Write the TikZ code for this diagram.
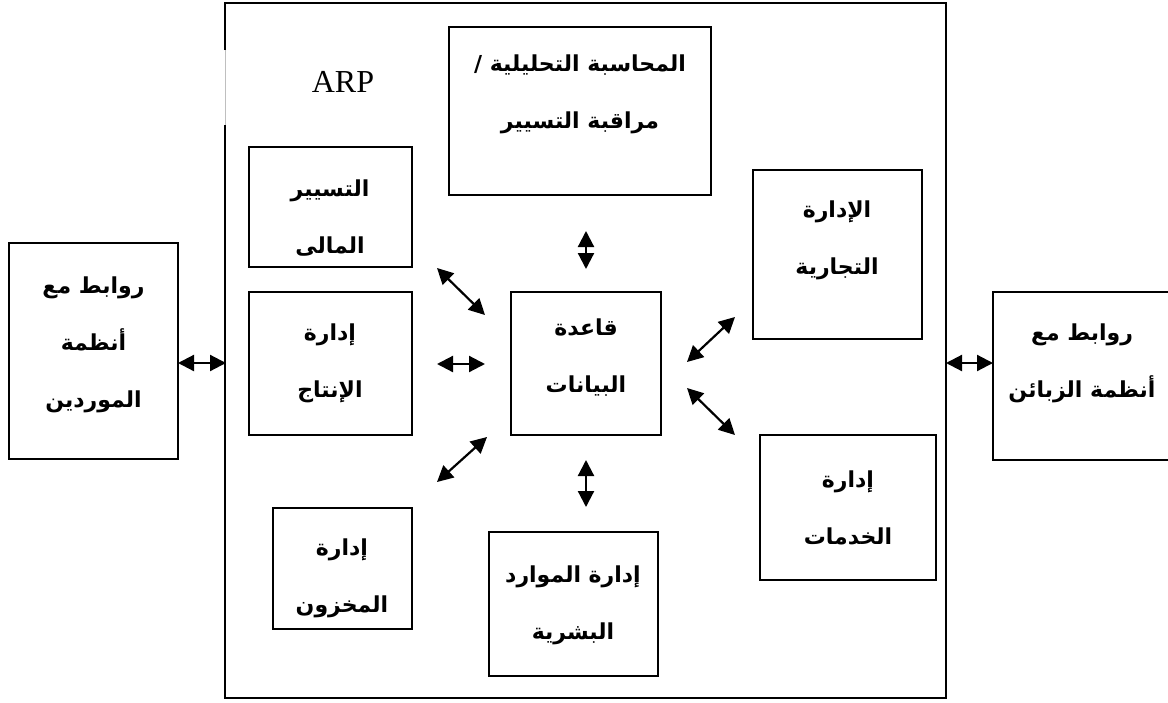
\documentclass[tikz,border=0pt]{standalone}
\usepackage{fontspec}
\setmainfont{Liberation Serif}
\newfontfamily\arfont[Script=Arabic]{DejaVu Sans}
\TeXXeTstate=1
\usetikzlibrary{arrows.meta}
\newcommand{\ar}[1]{{\arfont\bfseries\beginR #1\endR}}
\tikzset{
  box/.style={draw=black, line width=1.6pt, rectangle, inner sep=0pt},
  lbl/.style={align=center, font=\fontsize{22}{57}\selectfont, inner sep=0pt},
  link/.style={line width=2.2pt, {Triangle[length=16pt,width=16pt]}-{Triangle[length=16pt,width=16pt]}}
}
\begin{document}
\begin{tikzpicture}[x=1pt,y=-1pt]
\useasboundingbox (0,0) rectangle (1168,702);
\fill[white] (0,0) rectangle (1168,702);
% big ARP box
\draw[line width=1.6pt] (225,50) -- (225,3) -- (946,3) -- (946,698) -- (225,698) -- (225,125);
\draw[line width=0.8pt, gray!50] (225,50) -- (225,125);
\node[font=\fontsize{32}{36}\selectfont, inner sep=0pt] (arp) at (343,82) {ARP};
% outer boxes
\node[box, minimum width=169pt, minimum height=216pt] (sup) at (93.5,351) {};
\node[lbl] (supT) at (93.5,345) {\ar{روابط مع}\\\ar{أنظمة}\\\ar{الموردين}};
\node[box, minimum width=190pt, minimum height=168pt] (cli) at (1088,376) {};
\node[lbl] (cliT) at (1082,363) {\ar{روابط مع}\\\ar{أنظمة الزبائن}};
% inner boxes
\node[box, minimum width=262pt, minimum height=168pt] (ana) at (580,111) {};
\node[lbl] (anaT) at (580,94) {\ar{المحاسبة التحليلية /}\\\ar{مراقبة التسيير}};
\node[box, minimum width=163pt, minimum height=120pt] (fin) at (330.5,207) {};
\node[lbl] (finT) at (330,218) {\ar{التسيير}\\\ar{المالى}};
\node[box, minimum width=163pt, minimum height=143pt] (prod) at (330.5,363.5) {};
\node[lbl] (prodT) at (330,363) {\ar{إدارة}\\\ar{الإنتاج}};
\node[box, minimum width=150pt, minimum height=143pt] (db) at (586,363.5) {};
\node[lbl] (dbT) at (586,358) {\ar{قاعدة}\\\ar{البيانات}};
\node[box, minimum width=169pt, minimum height=169pt] (com) at (837.5,254.5) {};
\node[lbl] (comT) at (837,240) {\ar{الإدارة}\\\ar{التجارية}};
\node[box, minimum width=176pt, minimum height=145pt] (srv) at (848,507.5) {};
\node[lbl] (srvT) at (848,508) {\ar{إدارة}\\\ar{الخدمات}};
\node[box, minimum width=139pt, minimum height=121pt] (inv) at (342.5,568.5) {};
\node[lbl] (invT) at (342,578) {\ar{إدارة}\\\ar{المخزون}};
\node[box, minimum width=169pt, minimum height=144pt] (hr) at (573.5,604) {};
\node[lbl] (hrT) at (573,605) {\ar{إدارة الموارد}\\\ar{البشرية}};
% arrow end points
\coordinate (l1) at (178,363); \coordinate (l2) at (226,363);
\coordinate (r1) at (946,363); \coordinate (r2) at (993,363);
\coordinate (a1s) at (437,268); \coordinate (a1e) at (485,315);
\coordinate (a2s) at (437,364); \coordinate (a2e) at (485,364);
\coordinate (a3s) at (437,482); \coordinate (a3e) at (487,437);
\coordinate (a4s) at (586,231); \coordinate (a4e) at (586,269);
\coordinate (a5s) at (586,460); \coordinate (a5e) at (586,507);
\coordinate (a6s) at (687,362); \coordinate (a6e) at (735,317);
\coordinate (a7s) at (687,388); \coordinate (a7e) at (735,435);
\draw[link] (l1) -- (l2);
\draw[link] (r1) -- (r2);
\draw[link] (a1s) -- (a1e);
\draw[link] (a2s) -- (a2e);
\draw[link] (a3s) -- (a3e);
\draw[link] (a4s) -- (a4e);
\draw[link] (a5s) -- (a5e);
\draw[link] (a6s) -- (a6e);
\draw[link] (a7s) -- (a7e);
\end{tikzpicture}
\end{document}
